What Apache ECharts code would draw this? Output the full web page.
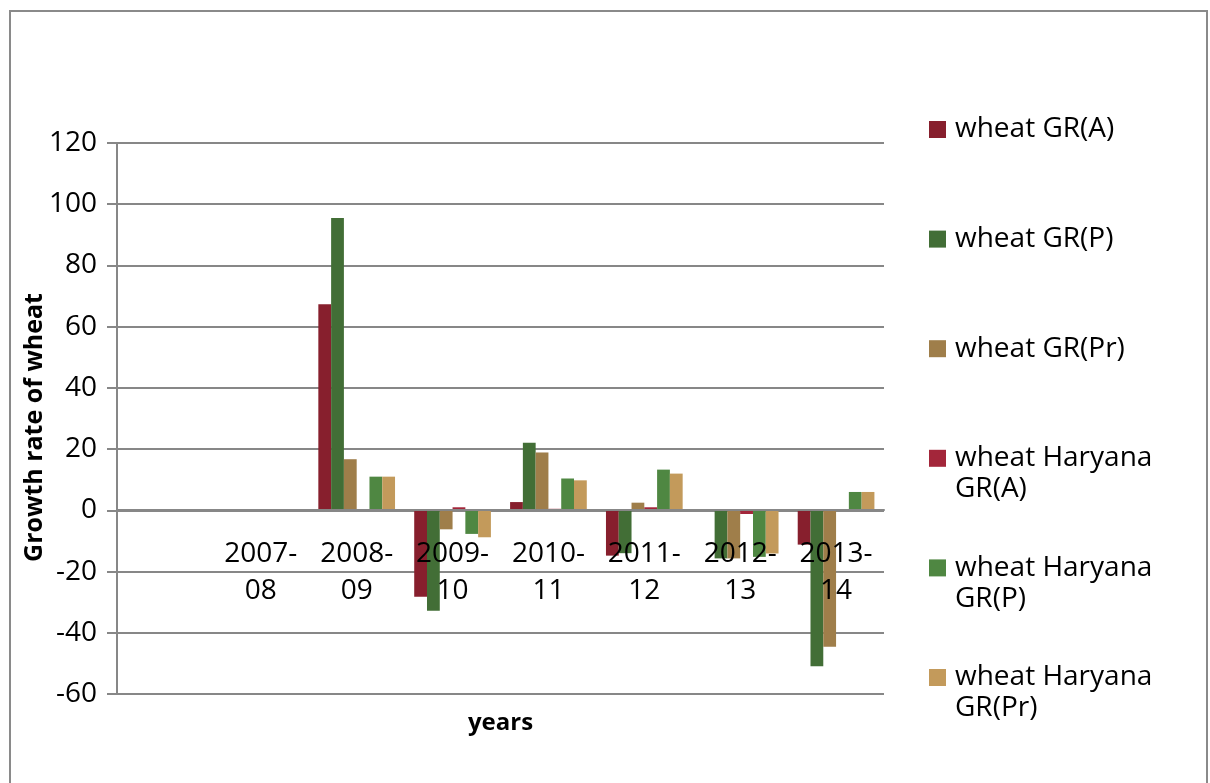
<!DOCTYPE html>
<html>
<head>
<meta charset="utf-8">
<script src="https://cdn.jsdelivr.net/npm/echarts@6/dist/echarts.min.js"></script>
<style>
  html, body { margin: 0; padding: 0; background: #fff; }
  #chart { width: 1210px; height: 783px; }
</style>
</head>
<body>
<div id="chart"></div>
<script>
// first category is an empty column, as in the original sheet
var years = ['', '2007-\n08', '2008-\n09', '2009-\n10', '2010-\n11', '2011-\n12', '2012-\n13', '2013-\n14'];

var seriesNames = ['wheat GR(A)', 'wheat GR(P)', 'wheat GR(Pr)',
    'wheat Haryana GR(A)', 'wheat Haryana GR(P)', 'wheat Haryana GR(Pr)'];

var grA = [null, 0, 67.3, -28.2, 2.7, -14.8, 0, -11.2];
var grP = [null, 0, 95.5, -32.8, 22.1, -14.0, -15.7, -50.9];
var grPr = [null, 0, 16.7, -6.2, 18.9, 2.5, -15.7, -44.6];
var hrA = [null, 0, 0, 1.0, 0.5, 1.0, -1.2, 0];
var hrP = [null, 0, 11.0, -7.7, 10.4, 13.3, -15.2, 6.0];
var hrPr = [null, 0, 11.0, -8.8, 9.8, 12.0, -14.1, 6.0];

var yTicks = [-60, -40, -20, 0, 20, 40, 60, 80, 100, 120];

var colors = ['#871f2d', '#426e36', '#9f7e4a', '#a3263a', '#4f8742', '#c39a5b'];
var allData = [grA, grP, grPr, hrA, hrP, hrPr];

// legend labels: wrap long names, pad every item to three lines so that
// the square sits on the first text line and items are evenly spaced
var legendLabels = {
    'wheat GR(A)': ' \nwheat GR(A)\n ',
    'wheat GR(P)': ' \nwheat GR(P)\n ',
    'wheat GR(Pr)': ' \nwheat GR(Pr)\n ',
    'wheat Haryana GR(A)': ' \nwheat Haryana\nGR(A)',
    'wheat Haryana GR(P)': ' \nwheat Haryana\nGR(P)',
    'wheat Haryana GR(Pr)': ' \nwheat Haryana\nGR(Pr)'
};

var font = '"Open Sans", "Liberation Sans", sans-serif';
var gray = '#878787';

var myChart = echarts.init(document.getElementById('chart'));

var series = [];
for (var i = 0; i < seriesNames.length; i++) {
    series.push({
        name: seriesNames[i],
        type: 'bar',
        data: allData[i],
        barGap: '0%',
        barCategoryGap: '20%',
        itemStyle: { color: colors[i] },
        z: 1
    });
}

var option = {
    animation: false,
    backgroundColor: '#ffffff',
    textStyle: { fontFamily: font },
    graphic: [{
        type: 'rect',
        shape: { x: 10, y: 11, width: 1197, height: 800 },
        style: { fill: 'none', stroke: '#8a8a8a', lineWidth: 2 },
        silent: true
    }],
    grid: {
        left: 117,
        right: 326,
        top: 143,
        bottom: 89,
        containLabel: false,
        outerBoundsMode: 'none'
    },
    legend: {
        orient: 'vertical',
        left: 929,
        top: 83,
        padding: 0,
        itemWidth: 17,
        itemHeight: 17,
        itemGap: 16.6,
        icon: 'rect',
        data: seriesNames,
        formatter: function(name) {
            return legendLabels[name];
        },
        textStyle: {
            fontFamily: font,
            fontSize: 28,
            lineHeight: 31,
            color: '#000',
            padding: [0, 0, 0, 4]
        }
    },
    xAxis: {
        type: 'category',
        data: years,
        name: 'years',
        nameLocation: 'middle',
        nameGap: 201,
        nameMoveOverlap: false,
        nameTextStyle: {
            fontFamily: font,
            fontSize: 24,
            fontWeight: 'bold',
            color: '#000'
        },
        // labels sit on the zero line, so lift the whole axis up to y = 0
        offset: -184,
        axisLine: { onZero: false, lineStyle: { color: gray, width: 2 } },
        axisTick: { show: false },
        axisLabel: {
            margin: 26,
            fontSize: 28,
            lineHeight: 37,
            color: '#000',
            interval: 0
        },
        z: 3
    },
    yAxis: {
        type: 'value',
        min: yTicks[0],
        max: yTicks[yTicks.length - 1],
        interval: 20,
        name: 'Growth rate of wheat',
        nameLocation: 'middle',
        nameRotate: 90,
        nameGap: 70,
        nameMoveOverlap: false,
        nameTextStyle: {
            fontFamily: font,
            fontSize: 25,
            fontWeight: 'bold',
            color: '#000',
            padding: [0, 18, 0, 0]
        },
        axisLine: { show: true, lineStyle: { color: gray, width: 2 } },
        axisTick: { show: true, inside: false, length: 10, lineStyle: { color: gray, width: 2 } },
        axisLabel: {
            margin: 20,
            fontSize: 28,
            color: '#000'
        },
        splitLine: { show: true, lineStyle: { color: gray, width: 2 } }
    },
    series: series
};

myChart.setOption(option);
</script>
</body>
</html>
